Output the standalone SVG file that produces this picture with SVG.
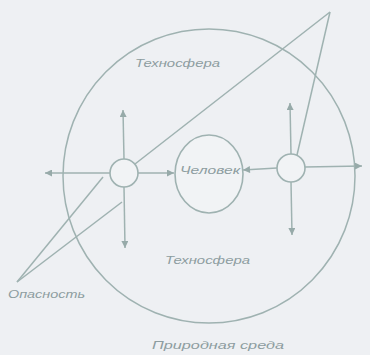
<svg xmlns="http://www.w3.org/2000/svg" width="370" height="355" viewBox="0 0 370 355">
<defs>
<marker id="ah" viewBox="0 0 10 10" refX="10" refY="5" markerWidth="8" markerHeight="7" markerUnits="userSpaceOnUse" orient="auto">
<path d="M0,0 L10,5 L0,10 z" fill="#97aaa9"/>
</marker>
<style>
.ln{stroke:#9fb2b1;stroke-width:1.5;fill:none}
.ar{stroke:#9fb2b1;stroke-width:1.5;fill:none;marker-end:url(#ah)}
.nd{stroke:#9fb2b1;stroke-width:1.6;fill:#f1f3f5}
.tx{font-family:"Liberation Sans",Arial,sans-serif;font-style:italic;fill:#8d9da0;font-size:11px}
</style>
</defs>
<rect width="370" height="355" fill="#eef0f3"/>
<g id="nature">
<ellipse cx="209" cy="176" rx="146" ry="147" class="ln"/>
<text class="tx" x="152" y="349" textLength="132" lengthAdjust="spacingAndGlyphs">Природная среда</text>
</g>
<g id="technosphere-labels">
<text class="tx" x="135" y="67" textLength="85" lengthAdjust="spacingAndGlyphs">Техносфера</text>
<text class="tx" x="165" y="264" textLength="85" lengthAdjust="spacingAndGlyphs">Техносфера</text>
</g>
<g id="connectors">
<line class="ar" x1="124" y1="159" x2="123" y2="110"/>
<line class="ar" x1="110" y1="173" x2="45" y2="173"/>
<line class="ar" x1="138" y1="173" x2="174" y2="173"/>
<line class="ar" x1="124" y1="187" x2="125" y2="248"/>
<line class="ar" x1="291" y1="154" x2="290" y2="103"/>
<line class="ar" x1="305" y1="167" x2="362" y2="166"/>
<line class="ar" x1="277" y1="168" x2="243" y2="170"/>
<line class="ar" x1="291" y1="182" x2="292" y2="235"/>
<line class="ln" x1="17" y1="282" x2="103" y2="177"/>
<line class="ln" x1="17" y1="282" x2="122" y2="202"/>
<line class="ln" x1="135" y1="164" x2="330" y2="12"/>
<line class="ln" x1="330" y1="12" x2="297" y2="155"/>
</g>
<g id="human">
<ellipse cx="209" cy="174" rx="34" ry="39" class="nd"/>
<text class="tx" x="180" y="174" textLength="60" lengthAdjust="spacingAndGlyphs">Человек</text>
</g>
<g id="source-left">
<circle cx="124" cy="173" r="14" class="nd"/>
</g>
<g id="source-right">
<circle cx="291" cy="168" r="14" class="nd"/>
</g>
<g id="danger">
<text class="tx" x="8" y="298" textLength="77" lengthAdjust="spacingAndGlyphs">Опасность</text>
</g>
</svg>
